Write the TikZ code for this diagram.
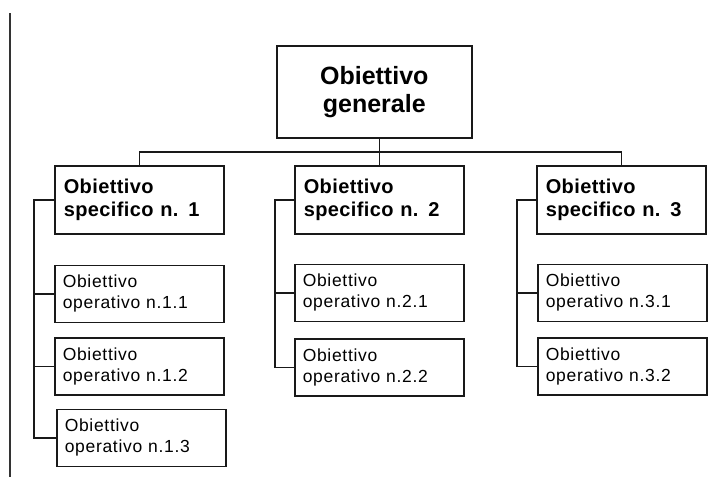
\documentclass[tikz,border=0pt]{standalone}
\usepackage{fontspec}
\setmainfont{Liberation Sans}
\newfontfamily\specfont[LetterSpace=2]{Liberation Sans}
\newfontfamily\operfont[LetterSpace=4]{Liberation Sans}
\begin{document}
\begin{tikzpicture}[x=1pt,y=-1pt]
	\tikzstyle{box} = [draw=black!90,line width=1.5pt,anchor=north west,inner sep=0pt]
	\tikzstyle{general} = [box,minimum width=195pt,minimum height=92pt,align=center,font=\fontsize{25}{28}\selectfont\bfseries]
	\tikzstyle{spec} = [box,minimum width=169pt,minimum height=68pt,text width=151pt,align=left,font=\specfont\fontsize{20}{23}\selectfont\bfseries]
	\tikzstyle{oper} = [box,minimum width=169pt,minimum height=57pt,text width=153pt,align=left,font=\operfont\fontsize{17.5}{21}\selectfont]
	\tikzstyle{link} = [draw=black!90,line width=1.5pt]
	\useasboundingbox (0,0) rectangle (715,477);

		% page margin line
		\draw[line width=1.5pt,black!80] (10,13) -- (10,477);

		\node[general] (g) at (276,45) {Obiettivo\\generale};

		\node[spec] (s1) at (54,165) {Obiettivo\\specifico n. 1};
		\node[spec] (s2) at (294,165) {Obiettivo\\specifico n. 2};
		\node[spec] (s3) at (536,165) {Obiettivo\\specifico n. 3};

		\node[oper] (o11) at ([yshift=-30pt]s1.south west) {Obiettivo\\operativo n.1.1};
		\node[oper] (o12) at ([yshift=-14pt]o11.south west) {Obiettivo\\operativo n.1.2};
		\node[oper] (o13) at ([xshift=2pt,yshift=-13pt]o12.south west) {Obiettivo\\operativo n.1.3};
		\node[oper] (o21) at ([yshift=-29pt]s2.south west) {Obiettivo\\operativo n.2.1};
		\node[oper] (o22) at ([yshift=-16pt]o21.south west) {Obiettivo\\operativo n.2.2};
		\node[oper] (o31) at ([xshift=1pt,yshift=-29pt]s3.south west) {Obiettivo\\operativo n.3.1};
		\node[oper] (o32) at ([yshift=-15pt]o31.south west) {Obiettivo\\operativo n.3.2};

		% bus from the general objective
		\coordinate (bus) at (0,152);
		\draw[link] (s2.north |- g.south) -- (s2.north);
		\draw[link] (s1.north) -- (s1.north |- bus) -- (s3.north |- bus) -- (s3.north);

		% brackets to the operative objectives
		\coordinate (b1) at ([xshift=-20pt]s1.west);
		\coordinate (b2) at ([xshift=-19pt]s2.west);
		\coordinate (b3) at ([xshift=-19pt]s3.west);
		\draw[link] (s1.west) -- (b1) |- (o13.west);
		\draw[link] (s2.west) -- (b2) |- (o22.west);
		\draw[link] (s3.west) -- (b3) |- (o32.west);
		\foreach \b/\o in {b1/o11,b1/o12,b2/o21,b3/o31}
			\draw[link] (\b |- \o.west) -- (\o.west);
\end{tikzpicture}
\end{document}
